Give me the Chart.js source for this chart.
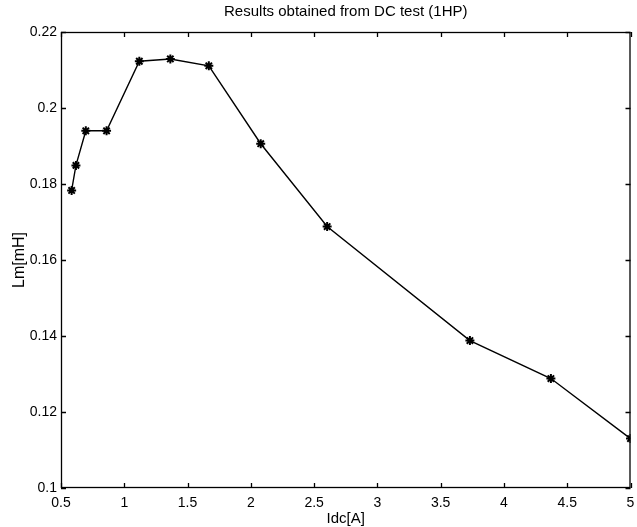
<!DOCTYPE html>
<html>
<head>
<meta charset="utf-8">
<script src="https://cdn.jsdelivr.net/npm/chart.js@4/dist/chart.umd.min.js"></script>
<style>
  html, body { margin: 0; padding: 0; background: #fff; }
  #wrap { width: 637px; height: 527px; }
</style>
</head>
<body>
<div id="wrap"><canvas id="chart" width="637" height="527"></canvas></div>
<script>
const idc = [0.584, 0.618, 0.696, 0.86, 1.119, 1.364, 1.668, 2.078, 2.603, 3.731, 4.371, 5.0];
const lm = [0.1783, 0.1849, 0.194, 0.194, 0.2123, 0.2129, 0.2111, 0.1906, 0.1688, 0.1388, 0.1288, 0.113];

const FONT = '"Liberation Sans", Arial, Helvetica, sans-serif';

// MATLAB-style frame with inward ticks on all four sides
const boxTicks = {
    id: 'boxTicks',
    afterDraw(chart) {
        const { ctx, chartArea: a, scales } = chart;
        const len = 5;
        ctx.save();
        ctx.strokeStyle = '#000';
        ctx.lineWidth = 1.3;
        ctx.strokeRect(a.left + 0.5, a.top + 0.5, a.right - a.left - 1, a.bottom - a.top - 1);
        ctx.beginPath();
        scales.x.ticks.forEach(t => {
            const px = Math.round(scales.x.getPixelForValue(t.value)) + 0.5;
            ctx.moveTo(px, a.bottom); ctx.lineTo(px, a.bottom - len);
            ctx.moveTo(px, a.top); ctx.lineTo(px, a.top + len);
        });
        scales.y.ticks.forEach(t => {
            const py = Math.round(scales.y.getPixelForValue(t.value)) + 0.5;
            ctx.moveTo(a.left, py); ctx.lineTo(a.left + len, py);
            ctx.moveTo(a.right, py); ctx.lineTo(a.right - len, py);
        });
        ctx.stroke();
        ctx.restore();
    }
};

const ctx = document.getElementById('chart');
new Chart(ctx, {
    type: 'scatter',
    data: {
        datasets: [{
            data: idc.map((x, i) => ({ x, y: lm[i] })),
            showLine: true,
            borderColor: '#000',
            borderWidth: 1.4,
            pointStyle: 'star',
            pointRadius: 4.5,
            pointBorderWidth: 2,
            pointBorderColor: '#000',
            pointBackgroundColor: '#000',
            tension: 0
        }]
    },
    options: {
        responsive: false,
        animation: false,
        devicePixelRatio: 1,
        layout: { padding: { left: 0, right: -2, top: 0, bottom: 0 } },
        plugins: {
            legend: { display: false },
            tooltip: { enabled: false }
        },
        scales: {
            x: {
                type: 'linear',
                min: 0.5,
                max: 5,
                afterFit: s => { s.height = 39; s.paddingLeft = 0; s.paddingRight = 0; },
                grid: { display: false, drawTicks: false },
                border: { display: false },
                ticks: {
                    stepSize: 0.5,
                    padding: 7,
                    color: '#000',
                    font: { family: FONT, size: 14 },
                    maxRotation: 0,
                    callback: v => String(Number(v.toFixed(2)))
                },
                title: {
                    display: true,
                    text: 'Idc[A]',
                    color: '#000',
                    font: { family: FONT, size: 15 },
                    padding: { top: 0, bottom: -1 }
                }
            },
            // top axis only carries the plot title, centred over the axes box
            x2: {
                type: 'linear',
                position: 'top',
                min: 0.5,
                max: 5,
                afterFit: s => { s.height = 32; s.paddingLeft = 0; s.paddingRight = 0; },
                grid: { display: false, drawTicks: false },
                border: { display: false },
                ticks: { display: false },
                title: {
                    display: true,
                    text: 'Results obtained from DC test (1HP)',
                    color: '#000',
                    font: { family: FONT, size: 15 },
                    padding: { top: 3, bottom: 0 }
                }
            },
            y: {
                type: 'linear',
                min: 0.1,
                max: 0.22,
                afterFit: s => { s.width = 61; },
                grid: { display: false, drawTicks: false },
                border: { display: false },
                ticks: {
                    stepSize: 0.02,
                    padding: 4,
                    color: '#000',
                    font: { family: FONT, size: 14 },
                    callback: v => String(Number(v.toFixed(2)))
                },
                title: {
                    display: true,
                    text: 'Lm[mH]',
                    color: '#000',
                    font: { family: FONT, size: 16 },
                    padding: { top: 10, bottom: 0 }
                }
            }
        }
    },
    plugins: [boxTicks]
});
</script>
</body>
</html>
